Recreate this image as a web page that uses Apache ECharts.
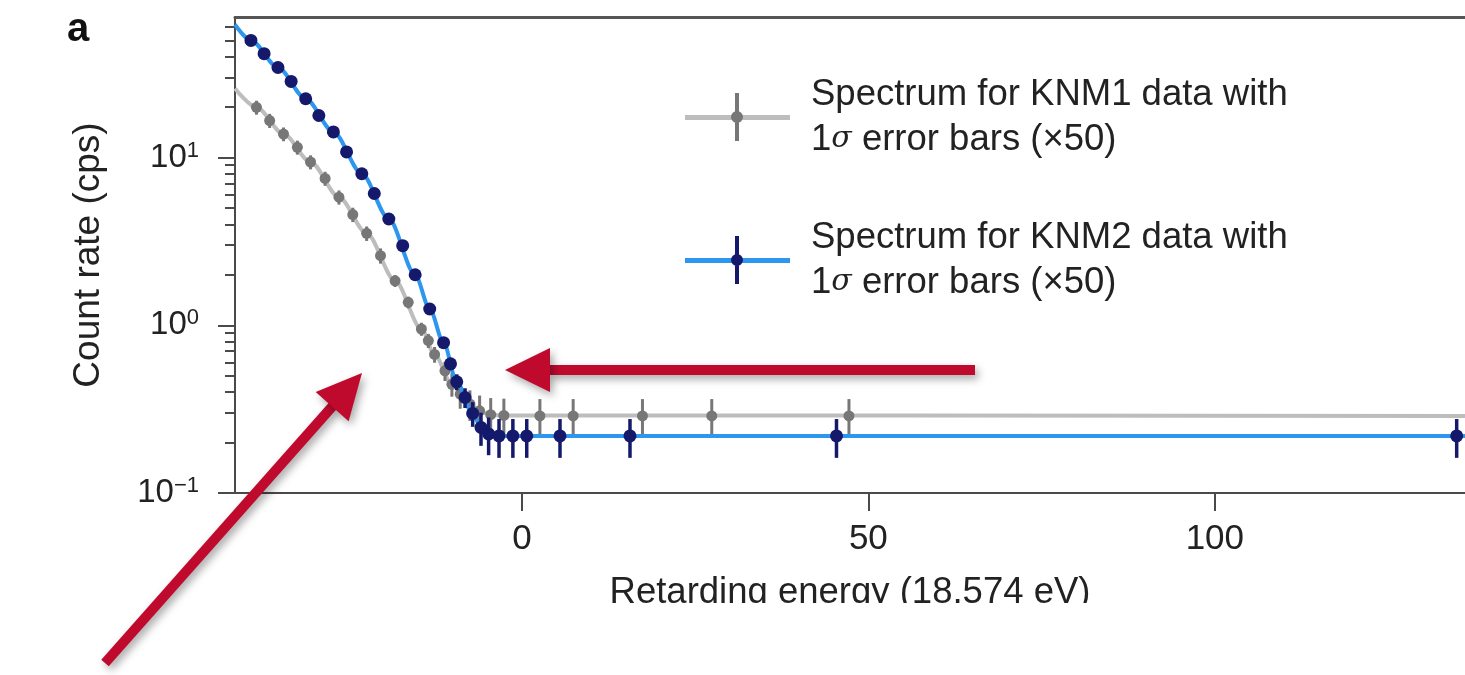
<!DOCTYPE html>
<html><head><meta charset="utf-8">
<script src="https://cdn.jsdelivr.net/npm/echarts@6/dist/echarts.min.js"></script>
<style>html,body{margin:0;padding:0;background:#fff}#c{width:1465px;height:675px}</style>
</head><body><div id="c"></div>
<script>
// ---- data ----
const knm1X = [-38.3,-36.4,-34.4,-32.4,-30.5,-28.4,-26.4,-24.4,-22.4,-20.4,-18.3,-16.4,-14.5,-13.5,-12.6,-11.1,-10.1,-8.9,-7.5,-6.1,-4.5,-2.6,2.6,7.4,17.4,27.4,47.2];
const knm1Y = [19.9,16.6,13.8,11.5,9.4,7.5,5.8,4.57,3.53,2.6,1.84,1.37,0.95,0.81,0.67,0.535,0.445,0.388,0.339,0.309,0.293,0.29,0.288,0.288,0.288,0.288,0.288];
const knm1Err = [1.9,1.6,1.3,1.1,0.9,0.72,0.56,0.45,0.35,0.27,0.15,0.11,0.085,0.078,0.072,0.07,0.07,0.07,0.07,0.072,0.075,0.075,0.075,0.075,0.075,0.075,0.075];

const knm2X = [-39.1,-37.2,-35.2,-33.3,-31.2,-29.3,-27.2,-25.3,-23.1,-21.3,-19.2,-17.2,-15.4,-13.3,-11.3,-10.3,-9.4,-8.2,-7.1,-5.9,-4.8,-3.3,-1.3,0.7,5.5,15.6,45.4,134.9];
const knm2Y = [49.9,41.6,34.4,28.4,22.4,17.8,14.2,10.8,8.0,6.1,4.3,2.98,2.0,1.25,0.787,0.589,0.46,0.371,0.298,0.246,0.225,0.219,0.219,0.219,0.219,0.219,0.219,0.219];
const knm2Err = [1.5,1.25,1.05,0.85,0.7,0.55,0.45,0.36,0.28,0.22,0.17,0.13,0.1,0.08,0.06,0.05,0.05,0.05,0.05,0.055,0.057,0.057,0.057,0.057,0.057,0.057,0.057,0.057];

const knm1FitX = [-41.4,-38.3,-34.4,-30.5,-26.4,-22.4,-18.3,-14.5,-12.6,-10.1,-7.5,-5.5,-3,136.1];
const knm1FitY = [25.8,19.9,13.8,9.4,5.8,3.53,1.84,0.95,0.67,0.445,0.335,0.3,0.29,0.288];
const knm2FitX = [-41.4,-39.1,-35.2,-31.2,-27.2,-23.1,-19.2,-15.4,-13.3,-11.3,-9.4,-7.1,-5.9,-4.5,-3,136.1];
const knm2FitY = [62,49.9,34.4,22.4,14.2,8.0,4.3,2.0,1.25,0.787,0.46,0.298,0.246,0.224,0.219,0.219];

const xTicks = [0, 50, 100];
const yTicks = [0.1, 1, 10];
const yMinorTicks = [0.2,0.3,0.4,0.5,0.6,0.7,0.8,0.9,2,3,4,5,6,7,8,9,20,30,40,50,60];
const xRange = [-41.4, 136.1];
const yRange = [0.1, 68.8];

const name1 = 'Spectrum for KNM1 data with 1σ error bars (×50)';
const name2 = 'Spectrum for KNM2 data with 1σ error bars (×50)';

// ---- styles ----
const FONT = 'Liberation Sans, Arial, Helvetica, sans-serif';
const AX = '#4a4a4a';
const GRAY_LINE = '#bdbdbd', GRAY_PT = '#777777';
const BLUE_LINE = '#2d96ee', NAVY = '#15196b';
const RED = '#bf0a2e';

function zip(xs, ys, es) { return xs.map((x, i) => es ? [x, ys[i], es[i]] : [x, ys[i]]); }

function errRender(color, r, lw) {
  return function (params, api) {
    const x = api.value(0), y = api.value(1), e = api.value(2);
    const p = api.coord([x, y]);
    const hi = api.coord([x, y + e]);
    const lo = api.coord([x, Math.max(y - e, 1e-4)]);
    return { type: 'group', children: [
      { type: 'line', shape: { x1: p[0], y1: hi[1], x2: p[0], y2: lo[1] }, style: { stroke: color, lineWidth: lw } },
      { type: 'circle', shape: { cx: p[0], cy: p[1], r: r }, style: { fill: color } }
    ] };
  };
}

function supLabel(v) {
  const e = Math.round(Math.log10(v));
  return '{b|10}{s|' + (e < 0 ? '\u2212' + (-e) : e) + '}';
}

function legendText(name) {
  const parts = name.split(' with ');
  return parts[0] + ' with\n1{i|σ} ' + parts[1].replace(/^1σ /, '');
}

function arrow(x1, y1, x2, y2) {
  const dx = x2 - x1, dy = y2 - y1, L = Math.hypot(dx, dy);
  const ux = dx / L, uy = dy / L, px = -uy, py = ux;
  const hl = 45, hw = 22;
  const bx = x2 - ux * hl, by = y2 - uy * hl;
  const shadow = { shadowBlur: 8, shadowOffsetX: 3, shadowOffsetY: 4, shadowColor: 'rgba(0,0,0,0.35)' };
  return { type: 'group', z: 200, children: [
    { type: 'line', z: 200, shape: { x1: x1, y1: y1, x2: bx + ux * 2, y2: by + uy * 2 }, style: Object.assign({ stroke: RED, lineWidth: 10 }, shadow) },
    { type: 'polygon', z: 200, shape: { points: [[x2, y2], [bx + px * hw, by + py * hw], [bx - px * hw, by - py * hw]] }, style: Object.assign({ fill: RED }, shadow) }
  ] };
}

const chart = echarts.init(document.getElementById('c'), null, { renderer: 'canvas' });
chart.setOption({
  animation: false,
  backgroundColor: '#fff',
  textStyle: { fontFamily: FONT },
  title: { text: 'a', left: 67, top: 10, padding: 0, textStyle: { fontFamily: FONT, fontSize: 40, fontWeight: 'bold', color: '#111' } },
  grid: { left: 235, right: 0, top: 17, bottom: 182, containLabel: false },
  legend: [
    { // fit-line part of the legend keys
      data: ['KNM1 fit', 'KNM2 fit'], orient: 'vertical', left: 685, top: 115, padding: 0,
      itemWidth: 105, itemHeight: 5, itemGap: 138, icon: 'rect', selectedMode: false,
      formatter: () => '', textStyle: { fontSize: 1, lineHeight: 1 }, itemStyle: { borderWidth: 0 }
    },
    { // data-point part of the legend keys plus text
      data: [name1, name2], orient: 'vertical', left: 685, top: 72, padding: 0, z: 6,
      itemWidth: 121, itemHeight: 48, itemGap: 53, selectedMode: false,
      icon: 'path://M0 0L0 0M121 48L121 48M50 0H54V48H50ZM58 24A6 6 0 0 1 46 24A6 6 0 0 1 58 24Z',
      formatter: legendText,
      textStyle: { fontFamily: FONT, fontSize: 36.5, lineHeight: 45, color: '#222',
        rich: { i: { fontFamily: 'DejaVu Serif, serif', fontStyle: 'italic', fontSize: 30, color: '#222' } } }
    }
  ],
  xAxis: [
    { type: 'value', min: xRange[0], max: xRange[1], position: 'bottom',
      name: 'Retarding energy (18,574 eV)', nameLocation: 'middle', nameGap: 81,
      nameTextStyle: { fontFamily: FONT, fontSize: 36.5, color: '#222' },
      axisLine: { show: true, onZero: false, lineStyle: { color: AX, width: 2 } },
      axisTick: { show: true, inside: false, length: 18, customValues: xTicks, lineStyle: { color: AX, width: 2 } },
      axisLabel: { customValues: xTicks, margin: 29, fontFamily: FONT, fontSize: 35, color: '#222' },
      splitLine: { show: false } },
    { type: 'value', min: xRange[0], max: xRange[1], position: 'top',
      axisLine: { show: true, onZero: false, lineStyle: { color: '#555', width: 3 } },
      axisTick: { show: false }, axisLabel: { show: false }, splitLine: { show: false } }
  ],
  yAxis: [
    { type: 'log', logBase: 10, min: yRange[0], max: yRange[1], position: 'left',
      name: 'Count rate (cps)', nameLocation: 'middle', nameGap: 128,
      nameTextStyle: { fontFamily: FONT, fontSize: 37, color: '#222' },
      axisLine: { show: true, onZero: false, lineStyle: { color: AX, width: 2 } },
      axisTick: { show: true, inside: false, length: 17, customValues: yTicks, lineStyle: { color: AX, width: 2 } },
      axisLabel: { customValues: yTicks, margin: 36, formatter: supLabel,
        rich: { b: { fontFamily: FONT, fontSize: 33, color: '#222', lineHeight: 36 },
                s: { fontFamily: FONT, fontSize: 22, color: '#222', verticalAlign: 'top', lineHeight: 20 } } },
      splitLine: { show: false } },
    { type: 'log', logBase: 10, min: yRange[0], max: yRange[1], position: 'left',
      axisLine: { show: false, onZero: false },
      axisTick: { show: true, inside: false, length: 10, customValues: yMinorTicks, lineStyle: { color: AX, width: 2 } },
      axisLabel: { show: false }, splitLine: { show: false } }
  ],
  series: [
    { name: 'KNM1 fit', type: 'line', data: zip(knm1FitX, knm1FitY), symbol: 'none', smooth: 0.3, smoothMonotone: 'x',
      lineStyle: { color: GRAY_LINE, width: 4 }, itemStyle: { color: GRAY_LINE }, z: 2 },
    { name: name1, type: 'custom', data: zip(knm1X, knm1Y, knm1Err), encode: { x: 0, y: 1 },
      renderItem: errRender(GRAY_PT, 5.5, 3), itemStyle: { color: GRAY_PT }, z: 3 },
    { name: 'KNM2 fit', type: 'line', data: zip(knm2FitX, knm2FitY), symbol: 'none', smooth: 0.3, smoothMonotone: 'x',
      lineStyle: { color: BLUE_LINE, width: 4 }, itemStyle: { color: BLUE_LINE }, z: 4 },
    { name: name2, type: 'custom', data: zip(knm2X, knm2Y, knm2Err), encode: { x: 0, y: 1 },
      renderItem: errRender(NAVY, 6.5, 3.5), itemStyle: { color: NAVY }, z: 5 }
  ],
  graphic: [
    { type: 'rect', z: 100, left: 0, top: 603, shape: { width: 1465, height: 72 }, style: { fill: '#fff' } },
    arrow(975, 370, 505, 370),
    arrow(105, 663, 362, 373)
  ]
});
</script></body></html>
